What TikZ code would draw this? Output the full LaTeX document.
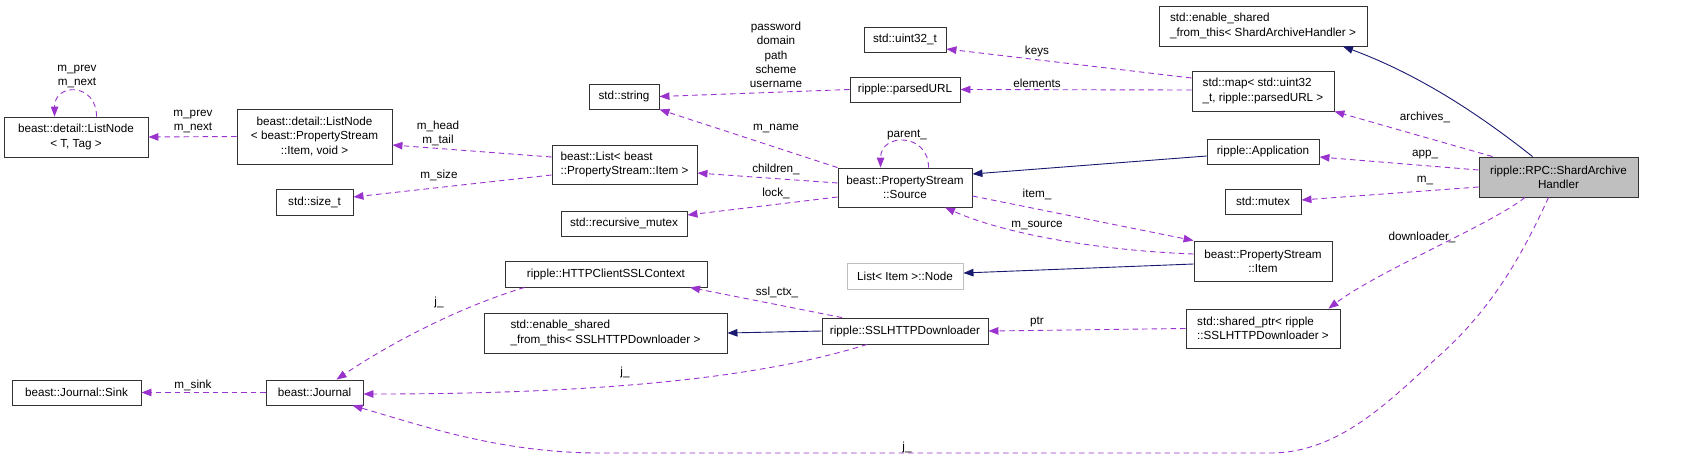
\documentclass[tikz,border=0pt]{standalone}
\usepackage{fontspec}
\setmainfont{Liberation Sans}
\usetikzlibrary{arrows.meta,calc}
\definecolor{refc}{HTML}{9A32CD}
\definecolor{inhc}{HTML}{191970}
\newcommand\dxfont{\fontsize{11.7}{14.3}\selectfont}
\begin{document}
\begin{tikzpicture}[x=1pt,y=-1pt,
  box/.style={draw=black!80, line width=0.9pt, inner sep=0pt, align=center, font=\dxfont, fill=white},
  lbox/.style={box, align=left},
  lbl/.style={font=\dxfont, inner sep=0pt, align=center},
  ref/.style={draw=refc, line width=0.9pt, dash pattern=on 5.5pt off 4pt, -{Triangle[length=10pt,width=7.5pt,fill=refc]}},
  inh/.style={draw=inhc, line width=0.9pt, -{Triangle[length=10pt,width=7.5pt,fill=inhc]}}]
\useasboundingbox (0,0) rectangle (1701,459);

% nodes
\node[box, minimum width=144pt, minimum height=40pt] (lnT) at (76,137) {beast::detail::ListNode\\< T, Tag >};
\node[box, minimum width=155pt, minimum height=55pt] (lnI) at (314.5,136.5) {beast::detail::ListNode\\< beast::PropertyStream\\::Item, void >};
\node[box, minimum width=77pt, minimum height=26pt] (sizet) at (314.5,202) {std::size\_t};
\node[lbox, minimum width=145pt, minimum height=39pt] (list) at (624.5,164.5) {beast::List< beast\\::PropertyStream::Item >};
\node[box, minimum width=70pt, minimum height=25pt] (string) at (624,96.5) {std::string};
\node[box, minimum width=82pt, minimum height=25pt] (uint) at (905,39.5) {std::uint32\_t};
\node[box, minimum width=110pt, minimum height=25pt] (purl) at (905,89.5) {ripple::parsedURL};
\node[box, minimum width=126pt, minimum height=25pt] (rmutex) at (624,223.5) {std::recursive\_mutex};
\node[box, minimum width=134pt, minimum height=39pt] (source) at (905,187.5) {beast::PropertyStream\\::Source};
\node[lbox, minimum width=208pt, minimum height=40pt] (esfA) at (1263,26) {std::enable\_shared\\\_from\_this< ShardArchiveHandler >};
\node[lbox, minimum width=142pt, minimum height=40pt] (map) at (1263,91) {std::map< std::uint32\\\_t, ripple::parsedURL >};
\node[box, minimum width=112pt, minimum height=25pt] (app) at (1263,151.5) {ripple::Application};
\node[box, fill=black!25, minimum width=159pt, minimum height=40pt] (handler) at (1558.5,177) {ripple::RPC::ShardArchive\\Handler};
\node[box, minimum width=76pt, minimum height=25pt] (mutex) at (1263,201.5) {std::mutex};
\node[box, minimum width=138pt, minimum height=40pt] (item) at (1263,261) {beast::PropertyStream\\::Item};
\node[lbox, minimum width=154pt, minimum height=39pt] (sptr) at (1263,328.5) {std::shared\_ptr< ripple\\::SSLHTTPDownloader >};
\node[box, minimum width=202pt, minimum height=26pt] (ctx) at (606,274) {ripple::HTTPClientSSLContext};
\node[lbox, minimum width=243pt, minimum height=40pt] (esfB) at (605.5,333) {std::enable\_shared\\\_from\_this< SSLHTTPDownloader >};
\node[box, minimum width=166pt, minimum height=26pt] (ssl) at (905,331) {ripple::SSLHTTPDownloader};
\node[box, draw=black!25, minimum width=116pt, minimum height=26pt] (lnode) at (905,276) {List< Item >::Node};
\node[box, minimum width=129pt, minimum height=25pt] (sink) at (76.5,392.5) {beast::Journal::Sink};
\node[box, minimum width=97pt, minimum height=25pt] (journal) at (314.5,392.5) {beast::Journal};

% edges
\draw[ref] ($(lnT.north west)+(93,0)$) .. controls +(0,-34) and +(0,-34) .. ($(lnT.north west)+(51,0)$);
\node[lbl] (l1) at (77,76.5) {m\_prev\\m\_next};
\draw[ref] (lnI.west) -- (lnT.east);
\node[lbl] (l2) at (193,121.5) {m\_prev\\m\_next};
\draw[ref] ($(list.west)+(0,-7.5)$) -- ($(lnI.east)+(0,8.5)$);
\node[lbl] (l3) at (438,133.5) {m\_head\\m\_tail};
\draw[ref] ($(list.west)+(0,10.5)$) -- ($(sizet.east)+(0,-5)$);
\node[lbl] (l4) at (439,175) {m\_size};
\draw[ref] (purl.west) -- (string.east);
\node[lbl] (l5) at (776,55) {password\\domain\\path\\scheme\\username};
\draw[ref] (source.north west) -- (string.south east);
\node[lbl] (l6) at (776,129) {m\_name};
\draw[ref] ($(source.west)+(0,-4.5)$) -- ($(list.east)+(0,8.5)$);
\node[lbl] (l7) at (776,169) {children\_};
\draw[ref] ($(source.west)+(0,9.5)$) -- ($(rmutex.east)+(0,-8.5)$);
\node[lbl] (l8) at (776,193) {lock\_};
\draw[ref] ($(source.north west)+(91,0)$) .. controls +(0,-35) and +(0,-35) .. ($(source.north west)+(43,0)$);
\node[lbl] (l9) at (907,135) {parent\_};
\draw[ref] ($(source.east)+(0,8.5)$) -- (item.north west);
\node[lbl] (l10) at (1037,194) {item\_};
\draw[ref] ($(item.west)+(0,-7)$) .. controls (1090,250) and (1000,232) .. ($(source.south)+(40,0)$);
\node[lbl] (l11) at (1037,226) {m\_source};
\draw[inh] ($(item.west)+(0,3)$) -- ($(lnode.east)+(0,-3)$);
\draw[inh] ($(app.west)+(0,4.5)$) -- ($(source.east)+(0,-13.5)$);
\draw[ref] ($(map.west)+(0,-13)$) -- ($(uint.east)+(0,9.5)$);
\node[lbl] (l12) at (1037,51) {keys};
\draw[ref] ($(map.west)+(0,-1)$) -- (purl.east);
\node[lbl] (l13) at (1037,83) {elements};
\draw[inh] ($(handler.north)+(-26,0)$) .. controls (1480,115) and (1420,75) .. ($(esfA.south)+(80,0)$);
\draw[ref] ($(handler.north west)+(14,0)$) -- (map.south east);
\node[lbl] (l14) at (1425,117) {archives\_};
\draw[ref] ($(handler.west)+(0,-7)$) -- ($(app.east)+(0,5.5)$);
\node[lbl] (l15) at (1425,155) {app\_};
\draw[ref] ($(handler.west)+(0,10)$) -- ($(mutex.east)+(0,-1.5)$);
\node[lbl] (l16) at (1425,181) {m\_};
\draw[ref] ($(handler.south)+(-33.5,0)$) .. controls (1490,225) and (1380,270) .. ($(sptr.north east)+(-12,0)$);
\node[lbl] (l17) at (1422,237) {downloader\_};
\coordinate (jA) at (1440,355);
\coordinate (jB) at (1270,453);
\coordinate (jC) at (600,453);
\draw[ref] ($(handler.south)+(-10,0)$) .. controls (1520,260) and (1490,310) .. (jA) .. controls (1390,400) and (1340,453) .. (jB) -- (jC) .. controls (500,453) and (420,425) .. ($(journal.south)+(38,0)$);
\node[lbl] (l18) at (907,447) {j\_};
\draw[ref] (sptr.west) -- (ssl.east);
\node[lbl] (l19) at (1037,322) {ptr};
\draw[ref] ($(ssl.north)+(-63,0)$) -- ($(ctx.south)+(84,0)$);
\node[lbl] (l20) at (777,292) {ssl\_ctx\_};
\draw[inh] (ssl.west) -- (esfB.east);
\draw[ref] ($(ssl.south)+(-38,0)$) .. controls (760,378) and (600,394) .. ($(journal.east)+(0,1.5)$);
\node[lbl] (l21) at (625,372) {j\_};
\draw[ref] ($(ctx.south west)+(20,0)$) .. controls (450,310) and (380,350) .. ($(journal.north)+(22,0)$);
\node[lbl] (l22) at (439,302) {j\_};
\draw[ref] (journal.west) -- (sink.east);
\node[lbl] (l23) at (193,385) {m\_sink};
\end{tikzpicture}
\end{document}
